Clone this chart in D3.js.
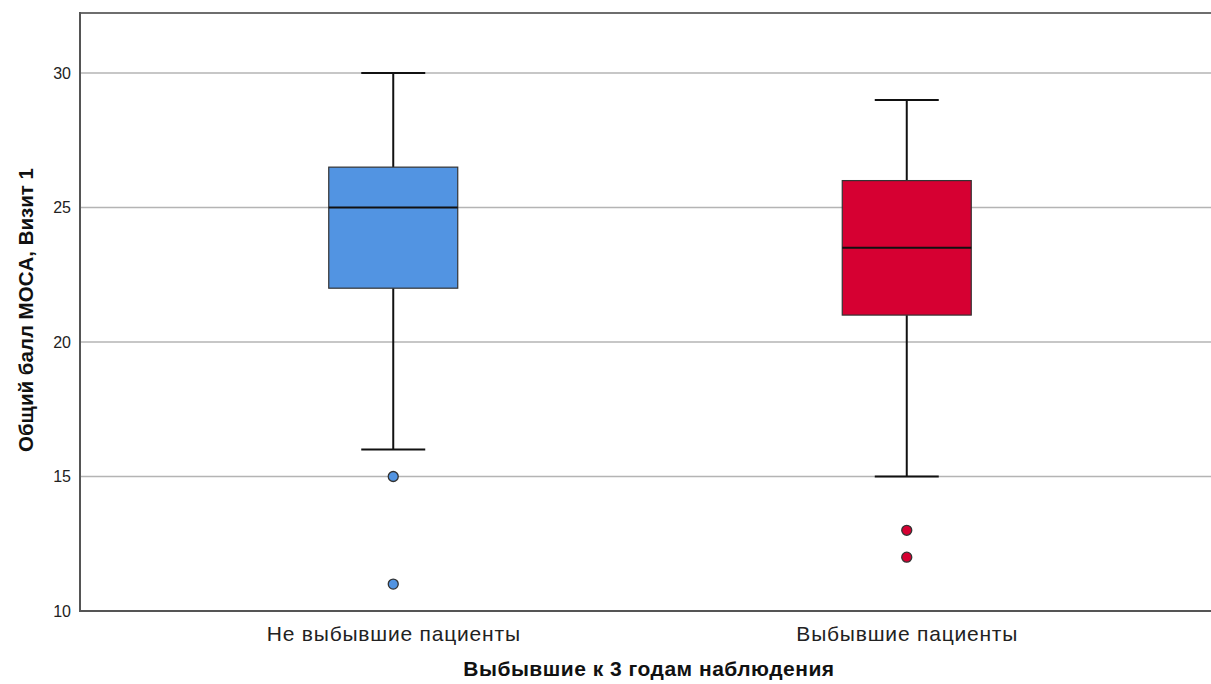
<!DOCTYPE html>
<html>
<head>
<meta charset="utf-8">
<script src="https://cdn.jsdelivr.net/npm/d3@7"></script>
<style>
  html, body { margin: 0; padding: 0; background: #fff; }
  svg { display: block; font-family: "Liberation Sans", Arial, sans-serif; }
</style>
</head>
<body>
<svg id="chart" width="1211" height="684"></svg>
<script>
// Groups and their five-number summaries (MOCA total score, visit 1)
const categories = ["Не выбывшие пациенты", "Выбывшие пациенты"];
const whiskerLow  = [16, 15];
const q1          = [22, 21];
const median      = [25, 23.5];
const q3          = [26.5, 26];
const whiskerHigh = [30, 29];
const outliers    = [[15, 11], [13, 12]];
const colors      = ["#5294e2", "#d60032"];
const yTicks      = [10, 15, 20, 25, 30];

const yTitle = "Общий балл MOCA, Визит 1";
const xTitle = "Выбывшие к 3 годам наблюдения";

const svg = d3.select("#chart");
const plotLeft = 80, plotRight = 1220, plotTop = 13, plotBottom = 611;

const y = d3.scaleLinear().domain([10, 32.23]).range([plotBottom, plotTop]);
const x = d3.scalePoint().domain(categories).range([plotLeft, plotRight]).padding(0.61);

// horizontal grid lines
svg.append("g").selectAll("line")
  .data(yTicks.filter(t => t > 10))
  .join("line")
  .attr("x1", plotLeft).attr("x2", 1211)
  .attr("y1", d => y(d)).attr("y2", d => y(d))
  .attr("stroke", "#b4b4b4").attr("stroke-width", 1.5);

// frame: left, top and bottom lines
svg.append("line").attr("x1", plotLeft).attr("x2", 1211).attr("y1", plotTop).attr("y2", plotTop)
  .attr("stroke", "#6e6e6e").attr("stroke-width", 2);
svg.append("line").attr("x1", plotLeft).attr("x2", 1211).attr("y1", plotBottom).attr("y2", plotBottom)
  .attr("stroke", "#555").attr("stroke-width", 2);
svg.append("line").attr("x1", plotLeft).attr("x2", plotLeft).attr("y1", plotTop - 1).attr("y2", plotBottom + 1)
  .attr("stroke", "#555").attr("stroke-width", 2);

// y axis tick labels
const yAxis = d3.axisLeft(y).tickValues(yTicks).tickSize(0).tickPadding(9);
const gy = svg.append("g").attr("transform", `translate(${plotLeft},0)`).call(yAxis);
gy.select(".domain").remove();
gy.selectAll("text").attr("font-size", 16).attr("fill", "#222")
  .attr("font-family", "Liberation Sans, Arial, sans-serif");

// x axis category labels
const xAxis = d3.axisBottom(x).tickSize(0).tickPadding(15);
const gx = svg.append("g").attr("transform", `translate(0,${plotBottom})`).call(xAxis);
gx.select(".domain").remove();
gx.selectAll("text").attr("font-size", 21).attr("fill", "#222")
  .attr("letter-spacing", 0.8)
  .attr("font-family", "Liberation Sans, Arial, sans-serif");

// box plots
const boxW = 129, capW = 64;
const groups = categories.map((c, i) => ({
  c, i, lo: whiskerLow[i], q1: q1[i], med: median[i], q3: q3[i], hi: whiskerHigh[i],
  out: outliers[i], color: colors[i]
}));

const g = svg.append("g").selectAll("g").data(groups).join("g");

g.append("line")
  .attr("x1", d => x(d.c)).attr("x2", d => x(d.c))
  .attr("y1", d => y(d.hi)).attr("y2", d => y(d.q3))
  .attr("stroke", "#111").attr("stroke-width", 2);
g.append("line")
  .attr("x1", d => x(d.c)).attr("x2", d => x(d.c))
  .attr("y1", d => y(d.q1)).attr("y2", d => y(d.lo))
  .attr("stroke", "#111").attr("stroke-width", 2);
g.append("line")
  .attr("x1", d => x(d.c) - capW / 2).attr("x2", d => x(d.c) + capW / 2)
  .attr("y1", d => y(d.hi)).attr("y2", d => y(d.hi))
  .attr("stroke", "#111").attr("stroke-width", 2);
g.append("line")
  .attr("x1", d => x(d.c) - capW / 2).attr("x2", d => x(d.c) + capW / 2)
  .attr("y1", d => y(d.lo)).attr("y2", d => y(d.lo))
  .attr("stroke", "#111").attr("stroke-width", 2);

g.append("rect")
  .attr("x", d => x(d.c) - boxW / 2).attr("width", boxW)
  .attr("y", d => y(d.q3)).attr("height", d => y(d.q1) - y(d.q3))
  .attr("fill", d => d.color).attr("stroke", "#333").attr("stroke-width", 1.2);

g.append("line")
  .attr("x1", d => x(d.c) - boxW / 2).attr("x2", d => x(d.c) + boxW / 2)
  .attr("y1", d => y(d.med)).attr("y2", d => y(d.med))
  .attr("stroke", "#111").attr("stroke-width", 2);

g.selectAll("circle")
  .data(d => d.out.map(v => ({ v, c: d.c, color: d.color })))
  .join("circle")
  .attr("cx", d => x(d.c)).attr("cy", d => y(d.v)).attr("r", 5)
  .attr("fill", d => d.color).attr("stroke", "#333").attr("stroke-width", 1.3);

// axis titles
svg.append("text")
  .attr("transform", `translate(33,310) rotate(-90)`)
  .attr("text-anchor", "middle")
  .attr("font-size", 20.5).attr("font-weight", "bold").attr("fill", "#111")
  .text(yTitle);

svg.append("text")
  .attr("x", 649).attr("y", 676)
  .attr("text-anchor", "middle")
  .attr("font-size", 21).attr("font-weight", "bold").attr("fill", "#111")
  .attr("letter-spacing", 0.5)
  .text(xTitle);
</script>
</body>
</html>
